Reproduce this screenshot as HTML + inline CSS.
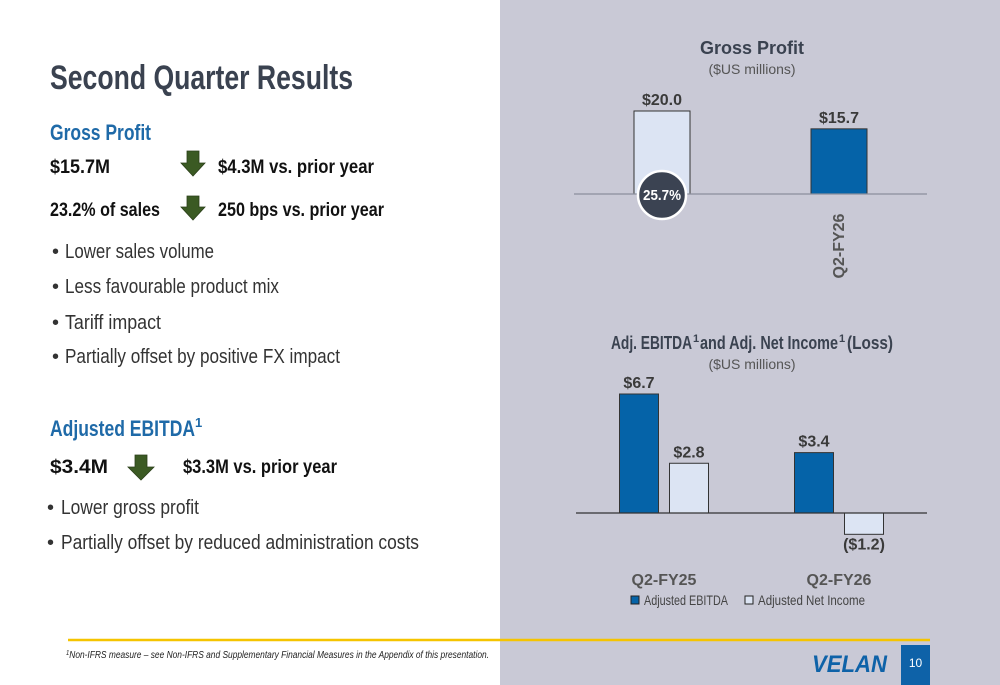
<!DOCTYPE html>
<html><head><meta charset="utf-8"><style>
html,body{margin:0;padding:0;background:#fff;}
svg{display:block;}
.n{font-family:"Liberation Sans Narrow","Liberation Sans",sans-serif;}
.s{font-family:"Liberation Sans",sans-serif;}
</style></head><body>
<svg width="1000" height="685" viewBox="0 0 1000 685">
<rect x="0" y="0" width="1000" height="685" fill="#ffffff"/>
<rect x="500" y="0" width="500" height="685" fill="#c9c9d6"/>

<g class="n" fill="#111">
<text x="50" y="89" font-size="34" font-weight="bold" fill="#3a4250" textLength="303" lengthAdjust="spacingAndGlyphs">Second Quarter Results</text>
<text x="50" y="140" font-size="22" font-weight="bold" fill="#1f6aa8" textLength="101" lengthAdjust="spacingAndGlyphs">Gross Profit</text>
<text x="50" y="173" font-size="19" font-weight="bold" textLength="60" lengthAdjust="spacingAndGlyphs">$15.7M</text>
<text x="218" y="173" font-size="19" font-weight="bold" textLength="156" lengthAdjust="spacingAndGlyphs">$4.3M vs. prior year</text>
<text x="50" y="216" font-size="19" font-weight="bold" textLength="110" lengthAdjust="spacingAndGlyphs">23.2% of sales</text>
<text x="218" y="216" font-size="19" font-weight="bold" textLength="166" lengthAdjust="spacingAndGlyphs">250 bps vs. prior year</text>
<g font-size="20" fill="#333">
<text x="52" y="258">•</text><text x="65" y="258" textLength="149" lengthAdjust="spacingAndGlyphs">Lower sales volume</text>
<text x="52" y="293">•</text><text x="65" y="293" textLength="214" lengthAdjust="spacingAndGlyphs">Less favourable product mix</text>
<text x="52" y="329">•</text><text x="65" y="329" textLength="96" lengthAdjust="spacingAndGlyphs">Tariff impact</text>
<text x="52" y="363">•</text><text x="65" y="363" textLength="275" lengthAdjust="spacingAndGlyphs">Partially offset by positive FX impact</text>
</g>
<text x="50" y="436" font-size="22" font-weight="bold" fill="#1f6aa8"><tspan textLength="145" lengthAdjust="spacingAndGlyphs">Adjusted EBITDA</tspan><tspan font-size="13" dy="-9">1</tspan></text>
<text x="50" y="473" font-size="19" font-weight="bold" textLength="58" lengthAdjust="spacingAndGlyphs">$3.4M</text>
<text x="183" y="473" font-size="19" font-weight="bold" textLength="154" lengthAdjust="spacingAndGlyphs">$3.3M vs. prior year</text>
<g font-size="20" fill="#333">
<text x="47" y="514">•</text><text x="61" y="514" textLength="138" lengthAdjust="spacingAndGlyphs">Lower gross profit</text>
<text x="47" y="549">•</text><text x="61" y="549" textLength="358" lengthAdjust="spacingAndGlyphs">Partially offset by reduced administration costs</text>
</g>
</g>
<g fill="#3b5a23" stroke="#2b3f1a" stroke-width="0.8">
<polygon points="187,151 199,151 199,163 205,163 193,176 181,163 187,163"/>
<polygon points="187,196 199,196 199,207 205,207 193,220 181,207 187,207"/>
<polygon points="135,455 147,455 147,467 154,467 141,480 128,467 135,467"/>
</g>

<line x1="68" y1="640" x2="930" y2="640" stroke="#f5c400" stroke-width="2.5"/>
<text class="n" x="66" y="658" font-size="10" font-style="italic" fill="#222" textLength="423" lengthAdjust="spacingAndGlyphs"><tspan font-size="7" dy="-3">1</tspan><tspan dy="3">Non-IFRS measure – see Non-IFRS and Supplementary Financial Measures in the Appendix of this presentation.</tspan></text>
<text class="s" x="812" y="672" font-size="24" font-weight="bold" font-style="italic" fill="#0e62a8" textLength="75" lengthAdjust="spacingAndGlyphs">VELAN</text>
<rect x="901" y="645" width="29" height="40" fill="#0e62a8"/>
<text class="n" x="915.5" y="667" font-size="12" fill="#fff" text-anchor="middle">10</text>

<g class="n">
<text x="611" y="349" font-size="18" font-weight="bold" fill="#3a4250" textLength="81" lengthAdjust="spacingAndGlyphs">Adj. EBITDA</text>
<text x="693" y="342" font-size="11" font-weight="bold" fill="#3a4250">1</text>
<text x="700" y="349" font-size="18" font-weight="bold" fill="#3a4250" textLength="138" lengthAdjust="spacingAndGlyphs">and Adj. Net Income</text>
<text x="839" y="342" font-size="11" font-weight="bold" fill="#3a4250">1</text>
<text x="847" y="349" font-size="18" font-weight="bold" fill="#3a4250" textLength="46" lengthAdjust="spacingAndGlyphs">(Loss)</text>
</g>

<g id="chart1"></g>
<g id="chart2"></g>
</svg>
<script>
const NS='http://www.w3.org/2000/svg';
const gpCategories=['Q2-FY25','Q2-FY26'];
const gpValues=[20.0,15.7];
const gpLabels=['$20.0','$15.7'];
const gpMarginLabel='25.7%';
const ebCategories=['Q2-FY25','Q2-FY26'];
const ebitdaValues=[6.7,3.4];
const netIncomeValues=[2.8,-1.2];
const ebitdaLabels=['$6.7','$3.4'];
const netIncomeLabels=['$2.8','($1.2)'];
const seriesNames=['Adjusted EBITDA','Adjusted Net Income'];

function mk(tag,attrs,parent,text){const e=document.createElementNS(NS,tag);for(const k in attrs)e.setAttribute(k,attrs[k]);if(text!==undefined)e.textContent=text;parent.appendChild(e);return e;}

// Chart 1
const c1=document.getElementById('chart1');
const base1=194, k1=83/20;
const y1=v=>base1-v*k1;
const x1=i=>662+i*177;
let t=mk('text',{x:752,y:54,'font-size':18,'font-weight':'bold',fill:'#3a4250','text-anchor':'middle',class:'s'},c1,'Gross Profit');

t=mk('text',{x:752,y:74,'font-size':14,fill:'#555','text-anchor':'middle',class:'s'},c1,'($US millions)');

gpValues.forEach((v,i)=>{
  const r=mk('rect',{x:x1(i)-28,y:y1(v),width:56,height:base1-y1(v),fill:i===0?'#dce4f3':'#0563a8',stroke:'#333','stroke-width':1},c1);
  
  const l=mk('text',{x:x1(i),y:y1(v)-6,'font-size':16,'font-weight':'bold',fill:'#3a3a3a','text-anchor':'middle',class:'s'},c1,gpLabels[i]);
  
});
let ln=mk('line',{x1:574,y1:base1,x2:927,y2:base1,stroke:'#8a8f9c','stroke-width':1.2},c1);

let ci=mk('circle',{cx:x1(0),cy:base1+1,r:24,fill:'#3b4352',stroke:'#fff','stroke-width':2.5},c1);

t=mk('text',{x:x1(0),y:base1+6,'font-size':15,'font-weight':'bold',fill:'#fff','text-anchor':'middle',class:'n',textLength:38,lengthAdjust:'spacingAndGlyphs'},c1,gpMarginLabel);

t=mk('text',{x:0,y:0,'font-size':16,'font-weight':'bold',fill:'#555','text-anchor':'middle',class:'s',transform:'translate('+(x1(1)+5)+',246) rotate(-90)'},c1,gpCategories[1]);


// Chart 2
const c2=document.getElementById('chart2');
const base2=513, k2=119/6.7;
const y2=v=>base2-v*k2;
const gx=i=>664+i*175;
t=mk('text',{x:752,y:369,'font-size':14,fill:'#555','text-anchor':'middle',class:'s'},c2,'($US millions)');

const series=[ebitdaValues,netIncomeValues], labels=[ebitdaLabels,netIncomeLabels], fills=['#0563a8','#dce4f3'];
series.forEach((vals,s)=>vals.forEach((v,i)=>{
  const cx=gx(i)+(s===0?-25:25);
  const top=Math.min(y2(v),base2), h=Math.abs(y2(v)-base2);
  const r=mk('rect',{x:cx-19.5,y:top,width:39,height:h,fill:fills[s],stroke:'#333','stroke-width':1},c2);
  
  const ly=v>=0?y2(v)-6:y2(v)+15;
  const l=mk('text',{x:cx,y:ly,'font-size':16,'font-weight':'bold',fill:'#3a3a3a','text-anchor':'middle',class:'n'},c2,labels[s][i]);
  
}));
ln=mk('line',{x1:576,y1:base2,x2:927,y2:base2,stroke:'#333','stroke-width':1.2},c2);

ebCategories.forEach((c,i)=>{
  const l=mk('text',{x:gx(i),y:585,'font-size':16,'font-weight':'bold',fill:'#555','text-anchor':'middle',class:'s'},c2,c);
  
});
const legX=[631,745];
const legW=[84,107];
seriesNames.forEach((n,s)=>{
  const g=mk('g',{},c2);
  
  mk('rect',{x:legX[s],y:596,width:8,height:8,fill:fills[s],stroke:'#222','stroke-width':1},g);
  mk('text',{x:legX[s]+13,y:605,'font-size':14,fill:'#444',class:'n',textLength:legW[s],lengthAdjust:'spacingAndGlyphs'},g,n);
});
</script>
</body></html>
